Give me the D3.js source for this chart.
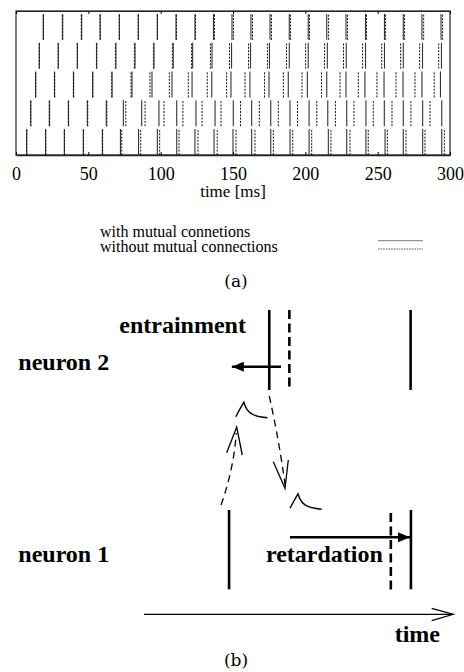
<!DOCTYPE html>
<html>
<head>
<meta charset="utf-8">
<script src="https://cdn.jsdelivr.net/npm/d3@7"></script>
<style>
  html, body { margin: 0; padding: 0; background: #fff; }
  svg { display: block; }
  .serif { font-family: "Liberation Serif", "Times New Roman", serif; }
  .bold { font-family: "Liberation Serif", "Times New Roman", serif; font-weight: bold; }
</style>
</head>
<body>
<svg id="fig" width="464" height="672"></svg>
<script>
// ---- (a) spike raster: five trains, spike times in ms ----
// rows listed top to bottom
const rowNames = ["row1", "row2", "row3", "row4", "row5"];

const solid1 = [18.9, 32.3, 45.4, 58.1, 71.4, 84.5, 97.7, 110.6, 123.7, 136.5, 149.3, 162.4, 175.6, 188.9, 202.0, 214.8, 228.1, 241.6, 254.7, 267.7, 280.6, 293.8];
const dashed1 = [18.9, 32.0, 45.1, 58.3, 71.5, 84.6, 97.7, 110.9, 124.1, 137.2, 150.3, 163.5, 176.6, 189.8, 202.9, 216.1, 229.2, 242.3, 255.5, 268.6, 281.8, 294.9];

const solid2 = [16.1, 29.2, 42.4, 55.8, 69.1, 82.3, 95.4, 108.7, 122.1, 135.5, 149.0, 162.1, 175.2, 188.9, 202.0, 215.2, 228.3, 241.6, 254.7, 267.7, 281.0, 294.1];
const dashed2 = [16.1, 29.2, 42.4, 55.6, 68.7, 81.8, 95.0, 108.1, 121.3, 134.4, 147.6, 160.7, 173.8, 187.0, 200.2, 213.3, 226.4, 239.6, 252.8, 265.9, 279.0, 292.2];

const solid3 = [13.6, 26.6, 39.7, 53.0, 66.4, 80.2, 94.0, 107.8, 121.7, 135.3, 148.6, 161.7, 174.9, 188.2, 201.4, 214.8, 228.1, 241.2, 254.4, 267.5, 280.6, 293.4];
const dashed3 = [13.6, 26.8, 39.9, 53.1, 66.2, 79.5, 92.6, 106.0, 119.1, 132.2, 145.6, 158.3, 171.8, 184.8, 197.7, 211.2, 224.0, 236.6, 249.5, 262.7, 275.8, 289.1];

const solid4 = [10.2, 23.0, 36.2, 49.3, 62.4, 74.2, 86.9, 98.8, 111.1, 124.4, 137.6, 150.2, 162.9, 176.1, 189.4, 202.6, 215.5, 228.6, 241.9, 254.6, 267.7, 281.1, 294.3];
const dashed4 = [10.2, 23.3, 36.4, 49.6, 62.8, 75.9, 89.2, 102.3, 115.4, 128.6, 141.7, 155.2, 168.2, 181.3, 194.6, 207.9, 220.8, 233.6, 247.0, 259.9, 273.0, 286.2];

const solid5 = [7.4, 20.5, 33.4, 46.5, 59.7, 72.2, 84.7, 97.7, 111.1, 123.7, 136.9, 150.0, 162.9, 176.1, 189.4, 202.6, 215.9, 228.6, 241.9, 255.1, 267.7, 281.1, 294.3];
const dashed5 = [7.4, 20.5, 33.5, 46.7, 59.9, 73.1, 86.2, 99.3, 112.7, 125.8, 139.1, 152.1, 165.2, 177.9, 191.3, 204.4, 217.7, 230.9, 243.5, 256.7, 269.6, 282.7, 296.1];

const solidRows = [solid1, solid2, solid3, solid4, solid5];
const dashedRows = [dashed1, dashed2, dashed3, dashed4, dashed5];

const timeTicks = [0, 50, 100, 150, 200, 250, 300];
const xLabel = "time [ms]";
const legendLabels = ["with mutual connetions", "without mutual connections"];

// ---- (b) schematic: spike times on an arbitrary time axis (0..100) ----
const neuron2Solid = [40.5, 86.2];
const neuron2Dashed = [47.0];
const neuron1Solid = [27.5, 86.3];
const neuron1Dashed = [79.8];
const entrainmentShift = [44.3, 28.4];   // from -> to
const retardationShift = [47.2, 86.0];   // from -> to
const pspOnsets = [29.7, 47.2];          // neuron 2 PSP, neuron 1 PSP

const svg = d3.select("#fig");

// ---------------- panel (a) ----------------
const x = d3.scaleLinear().domain([0, 300]).range([16, 450]);
const y = d3.scaleLinear().domain([0, 5]).range([155, 11]);
const spikeSpan = 0.9;

const raster = svg.append("g");

rowNames.forEach((name, i) => {
  const base = 4 - i;           // bottom row sits on 0
  const g = raster.append("g").attr("class", name);
  g.selectAll("line.solid")
    .data(solidRows[i])
    .join("line")
    .attr("class", "solid")
    .attr("x1", d => x(d)).attr("x2", d => x(d))
    .attr("y1", y(base)).attr("y2", y(base + spikeSpan))
    .attr("stroke", "#333")
    .attr("stroke-width", 1.1);
  g.selectAll("line.dashed")
    .data(dashedRows[i])
    .join("line")
    .attr("class", "dashed")
    .attr("x1", d => x(d)).attr("x2", d => x(d))
    .attr("y1", y(base)).attr("y2", y(base + spikeSpan))
    .attr("stroke", "#111")
    .attr("stroke-width", 1)
    .attr("stroke-dasharray", "2,1.3");
});

// frame
raster.append("rect")
  .attr("x", x(0)).attr("y", y(5))
  .attr("width", x(300) - x(0)).attr("height", y(0) - y(5))
  .attr("fill", "none").attr("stroke", "#222").attr("stroke-width", 1.2);

// bottom axis with inward ticks
const axB = raster.append("g")
  .attr("transform", `translate(0,${y(0)})`)
  .call(d3.axisBottom(x).tickValues(timeTicks).tickSizeInner(-3).tickSizeOuter(0).tickPadding(12));
axB.select(".domain").attr("stroke", "#222").attr("stroke-width", 1.6);
axB.selectAll("text")
  .style("font-family", '"Liberation Serif", "Times New Roman", serif')
  .style("font-size", "18px")
  .attr("fill", "#000");

// top axis: ticks only
const axT = raster.append("g")
  .attr("transform", `translate(0,${y(5)})`)
  .call(d3.axisTop(x).tickValues(timeTicks).tickSizeInner(-3).tickSizeOuter(0).tickFormat(""));
axT.select(".domain").attr("stroke", "#222").attr("stroke-width", 1.2);

raster.append("text")
  .attr("class", "serif")
  .attr("x", (x(0) + x(300)) / 2).attr("y", 197)
  .attr("text-anchor", "middle")
  .style("font-size", "17px")
  .text(xLabel);

// legend
const legend = svg.append("g");
legend.selectAll("text")
  .data(legendLabels)
  .join("text")
  .attr("class", "serif")
  .attr("x", 100)
  .attr("y", (d, i) => 237.3 + i * 14.4)
  .style("font-size", "16px")
  .text(d => d);
legend.append("line")
  .attr("x1", 378).attr("x2", 423).attr("y1", 240.7).attr("y2", 240.7)
  .attr("stroke", "#555").attr("stroke-width", 0.8);
legend.append("line")
  .attr("x1", 378).attr("x2", 423).attr("y1", 249).attr("y2", 249)
  .attr("stroke", "#333").attr("stroke-width", 0.8)
  .attr("stroke-dasharray", "1.6,1");

svg.append("text")
  .attr("x", 236).attr("y", 287)
  .attr("text-anchor", "middle")
  .style("font-family", '"DejaVu Serif", serif')
  .style("font-size", "17px")
  .text("(a)");

// ---------------- panel (b) ----------------
const bx = d3.scaleLinear().domain([0, 100]).range([144, 453.3]);
const n2Top = 310, n2Bot = 390;
const n1Top = 510, n1Bot = 589.3;
const thick = 2.6;

const sch = svg.append("g");

// arrowhead marker
const defs = svg.append("defs");
defs.append("marker")
  .attr("id", "solidHead")
  .attr("viewBox", "0 0 12 10")
  .attr("refX", 12).attr("refY", 5)
  .attr("markerWidth", 12).attr("markerHeight", 10)
  .attr("markerUnits", "userSpaceOnUse")
  .attr("orient", "auto")
  .append("path").attr("d", "M0,0 L12,5 L0,10 Z").attr("fill", "#000");

// neuron 2 spikes
sch.selectAll("line.n2s").data(neuron2Solid).join("line")
  .attr("class", "n2s")
  .attr("x1", d => bx(d)).attr("x2", d => bx(d))
  .attr("y1", n2Top).attr("y2", n2Bot)
  .attr("stroke", "#000").attr("stroke-width", thick);
sch.selectAll("line.n2d").data(neuron2Dashed).join("line")
  .attr("class", "n2d")
  .attr("x1", d => bx(d)).attr("x2", d => bx(d))
  .attr("y1", n2Top).attr("y2", n2Bot)
  .attr("stroke", "#000").attr("stroke-width", thick)
  .attr("stroke-dasharray", "9,4.5");

// neuron 1 spikes
sch.selectAll("line.n1s").data(neuron1Solid).join("line")
  .attr("class", "n1s")
  .attr("x1", d => bx(d)).attr("x2", d => bx(d))
  .attr("y1", n1Top).attr("y2", n1Bot)
  .attr("stroke", "#000").attr("stroke-width", thick);
sch.selectAll("line.n1d").data(neuron1Dashed).join("line")
  .attr("class", "n1d")
  .attr("x1", d => bx(d)).attr("x2", d => bx(d))
  .attr("y1", n1Top + 3).attr("y2", n1Bot + 4)
  .attr("stroke", "#000").attr("stroke-width", thick)
  .attr("stroke-dasharray", "9,4.5");

// entrainment / retardation arrows
sch.append("line")
  .attr("x1", bx(entrainmentShift[0])).attr("x2", bx(entrainmentShift[1]))
  .attr("y1", 366.7).attr("y2", 366.7)
  .attr("stroke", "#000").attr("stroke-width", 2.6)
  .attr("marker-end", "url(#solidHead)");
sch.append("line")
  .attr("x1", bx(retardationShift[0])).attr("x2", bx(retardationShift[1]))
  .attr("y1", 537.3).attr("y2", 537.3)
  .attr("stroke", "#000").attr("stroke-width", 2.6)
  .attr("marker-end", "url(#solidHead)");

// postsynaptic potentials
function psp(x0, yb) {
  return `M${x0},${yb} Q${x0 + 3},${yb - 6} ${x0 + 8},${yb - 14.5} ` +
         `C${x0 + 11},${yb - 4} ${x0 + 16},${yb - 0.5} ${x0 + 31.6},${yb + 1}`;
}
sch.append("path").attr("d", psp(bx(pspOnsets[0]), 416.7))
  .attr("fill", "none").attr("stroke", "#000").attr("stroke-width", 1.4);
sch.append("path").attr("d", psp(bx(pspOnsets[1]), 508.3))
  .attr("fill", "none").attr("stroke", "#000").attr("stroke-width", 1.4);

// signal transmission arrows (dashed shafts, open heads)
const upFrom = [bx(neuron1Solid[0]) - 8, 505];
const upTip = [236.7, 427];
sch.append("path")
  .attr("d", `M${upFrom[0]},${upFrom[1]} Q${234},${468} ${upTip[0] - 0.5},${upTip[1] + 6}`)
  .attr("fill", "none").attr("stroke", "#000").attr("stroke-width", 1.3)
  .attr("stroke-dasharray", "7,5");
sch.append("path")
  .attr("d", `M226.7,452.7 L${upTip[0]},${upTip[1]} L242.3,455`)
  .attr("fill", "none").attr("stroke", "#000").attr("stroke-width", 1.3);

const downFrom = [bx(neuron2Solid[0]), 396];
const downTip = [285, 488.3];
sch.append("path")
  .attr("d", `M${downFrom[0]},${downFrom[1]} Q279,440 ${downTip[0]},${downTip[1] - 4}`)
  .attr("fill", "none").attr("stroke", "#000").attr("stroke-width", 1.3)
  .attr("stroke-dasharray", "7,5");
sch.append("path")
  .attr("d", `M273.3,461.7 L${downTip[0]},${downTip[1]} L288.3,460`)
  .attr("fill", "none").attr("stroke", "#000").attr("stroke-width", 1.3);

// time axis
sch.append("line")
  .attr("x1", bx(0)).attr("x2", bx(100)).attr("y1", 614.3).attr("y2", 614.3)
  .attr("stroke", "#000").attr("stroke-width", 1.2);
sch.append("path")
  .attr("d", `M${bx(100) - 21.6},608.3 L${bx(100)},614.3 L${bx(100) - 21.6},620.7`)
  .attr("fill", "none").attr("stroke", "#000").attr("stroke-width", 1.2);

// labels
const bLabels = [
  { t: "entrainment", x: 119.3, y: 333.3, a: "start" },
  { t: "neuron 2", x: 18.3, y: 370, a: "start" },
  { t: "neuron 1", x: 18.3, y: 561.7, a: "start" },
  { t: "retardation", x: 266, y: 561.7, a: "start" },
  { t: "time", x: 440, y: 641.7, a: "end" }
];
sch.selectAll("text.lab").data(bLabels).join("text")
  .attr("class", "lab bold")
  .attr("x", d => d.x).attr("y", d => d.y)
  .attr("text-anchor", d => d.a)
  .style("font-size", "24px")
  .text(d => d.t);

svg.append("text")
  .attr("x", 236).attr("y", 666)
  .attr("text-anchor", "middle")
  .style("font-family", '"DejaVu Serif", serif')
  .style("font-size", "17px")
  .text("(b)");
</script>
</body>
</html>
